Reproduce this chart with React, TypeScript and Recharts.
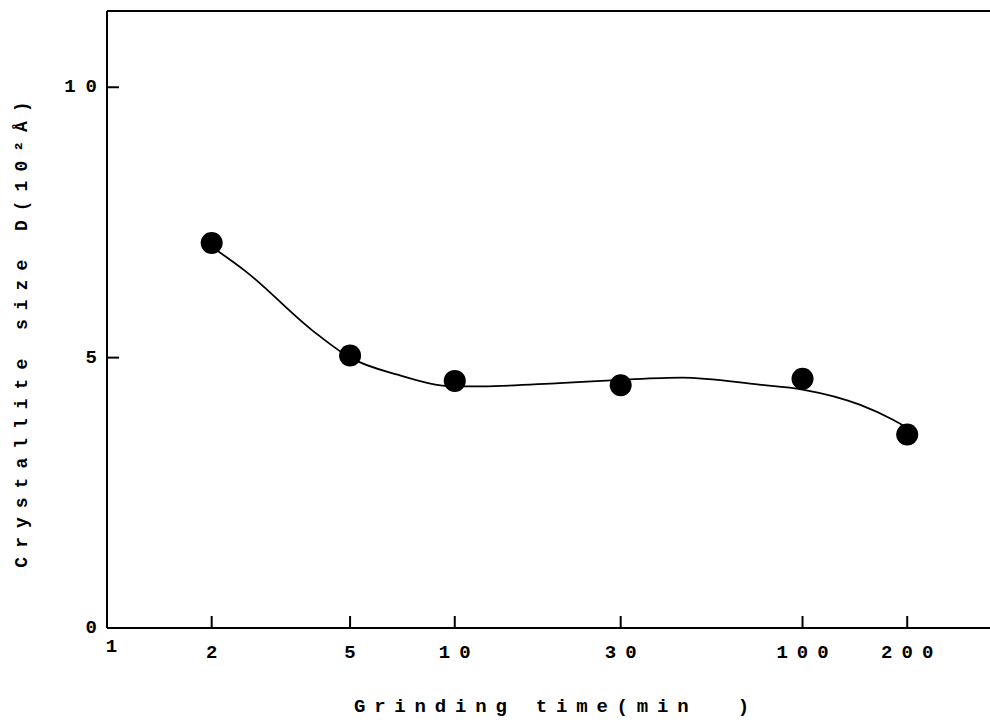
import { ComposedChart, Line, Scatter, XAxis, YAxis, ReferenceLine } from "recharts";

// grinding time (min) and measured crystallite size D (10^2 Å)
const grindTimes = [2, 5, 10, 30, 100, 200];
const crystalSizes = [7.12, 5.04, 4.57, 4.49, 4.61, 3.58];

// hand-drawn fitted curve through the measurements
const curveTimes = [2, 2.5, 3.9, 5, 6.8, 10, 12, 20, 30, 45, 75, 100, 146, 182, 200];
const curveSizes = [7.05, 6.6, 5.5, 5.0, 4.69, 4.47, 4.47, 4.53, 4.59, 4.63, 4.5, 4.41, 4.13, 3.85, 3.7];

const xTicks = [1, 2, 5, 10, 30, 100, 200];
const yTicks = [0, 5, 10];

const points = grindTimes.map((t, i) => ({ t, d: crystalSizes[i] }));
const curve = curveTimes.map((t, i) => ({ t, d: curveSizes[i] }));

const FONT = "'Liberation Mono', 'Courier New', monospace";
const X_AXIS_Y = 628;
const Y_AXIS_X = 107;
const X_MARGIN = 30;
const Y_MARGIN = 10;
const MARK = 12;

const XTick = (props: any) => {
  const { x, y, payload } = props;
  const v = payload.value;
  const spacing = 9;
  return (
    <g>
      {v !== 1 && (
        <line x1={x} x2={x} y1={y - X_MARGIN} y2={y - X_MARGIN - MARK} stroke="#000" strokeWidth={2} />
      )}
      <text
        x={v === 1 ? x + 9 : x + spacing / 2}
        y={v === 1 ? y - 6 : y}
        textAnchor="middle"
        fontFamily={FONT}
        fontSize={19}
        fontWeight="bold"
        fill="#000"
        style={{ letterSpacing: spacing }}
      >
        {v}
      </text>
    </g>
  );
};

const YTick = (props: any) => {
  const { x, y, payload } = props;
  const v = payload.value;
  const spacing = 10;
  return (
    <g>
      {v !== 0 && (
        <line x1={x + Y_MARGIN} x2={x + Y_MARGIN + MARK} y1={y} y2={y} stroke="#000" strokeWidth={2} />
      )}
      <text
        x={x + spacing}
        y={y}
        textAnchor="end"
        dominantBaseline="central"
        fontFamily={FONT}
        fontSize={19}
        fontWeight="bold"
        fill="#000"
        style={{ letterSpacing: spacing }}
      >
        {v}
      </text>
    </g>
  );
};

const Dot = (props: any) => {
  const { cx, cy } = props;
  return <circle cx={cx} cy={cy} r={11} fill="#000" />;
};

export default function App() {
  return (
    <div style={{ position: "absolute", left: 0, top: 0, width: 990, height: 724, overflow: "hidden", background: "#fff" }}>
      <ComposedChart width={990} height={724} margin={{ top: 11, right: 0, left: 0, bottom: 0 }}>
        <XAxis
          dataKey="t"
          type="number"
          scale="log"
          domain={[1, 346]}
          allowDataOverflow
          ticks={xTicks}
          interval={0}
          height={724 - X_AXIS_Y}
          axisLine={{ stroke: "#000", strokeWidth: 2 }}
          tickLine={false}
          tickSize={0}
          tickMargin={X_MARGIN}
          tick={<XTick />}
        />
        <YAxis
          dataKey="d"
          type="number"
          domain={[0, 11.41]}
          allowDataOverflow
          ticks={yTicks}
          interval={0}
          width={Y_AXIS_X}
          axisLine={{ stroke: "#000", strokeWidth: 2 }}
          tickLine={false}
          tickSize={0}
          tickMargin={Y_MARGIN}
          tick={<YTick />}
        />
        <ReferenceLine y={11.41} stroke="#000" strokeWidth={2} ifOverflow="visible" />
        <Line
          data={curve}
          dataKey="d"
          type="monotone"
          stroke="#000"
          strokeWidth={1.8}
          dot={false}
          activeDot={false}
          isAnimationActive={false}
        />
        <Scatter data={points} dataKey="d" fill="#000" shape={<Dot />} isAnimationActive={false} />
        <text
          x={556}
          y={712}
          textAnchor="middle"
          fontFamily={FONT}
          fontSize={19}
          fontWeight="bold"
          fill="#000"
          style={{ letterSpacing: 8.8, whiteSpace: "pre" }}
        >
          Grinding time(min  )
        </text>
        <text
          x={0}
          y={0}
          transform="translate(22, 330) rotate(-90)"
          textAnchor="middle"
          dominantBaseline="central"
          fontFamily={FONT}
          fontSize={18}
          fontWeight="bold"
          fill="#000"
          style={{ letterSpacing: 9 }}
        >
          Crystallite size D(10²Å)
        </text>
      </ComposedChart>
    </div>
  );
}
